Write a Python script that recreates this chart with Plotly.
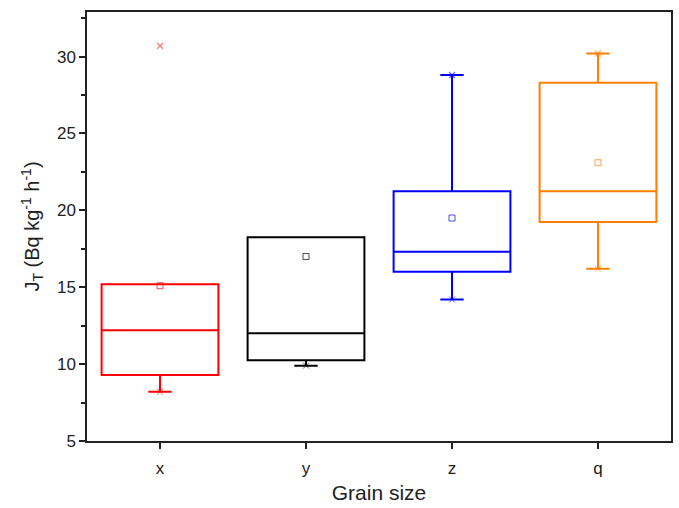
import plotly.graph_objects as go

categories = ["x", "y", "z", "q"]
colors = ["#FF0000", "#000000", "#0000FF", "#FF7F00"]
q1 = [9.3, 10.25, 16.0, 19.25]
median = [12.2, 12.0, 17.3, 21.25]
q3 = [15.2, 18.25, 21.25, 28.3]
lower = [8.2, 9.9, 14.2, 16.2]
upper = [15.2, 18.25, 28.8, 30.2]
means = [15.1, 17.0, 19.5, 23.1]
max_points = [30.7, None, 28.8, 30.2]

fig = go.Figure()
for i, c in enumerate(categories):
    fig.add_trace(go.Box(
        x=[c], q1=[q1[i]], median=[median[i]], q3=[q3[i]],
        lowerfence=[lower[i]], upperfence=[upper[i]],
        boxpoints=False, fillcolor="rgba(0,0,0,0)",
        line=dict(color=colors[i], width=2), whiskerwidth=0.2,
        width=0.8, showlegend=False, hoverinfo="skip"))
    fig.add_trace(go.Scatter(
        x=[c], y=[means[i]], mode="markers",
        marker=dict(symbol="square-open", size=6, color=colors[i],
                    opacity=0.7, line=dict(width=1)),
        showlegend=False))
    fig.add_trace(go.Scatter(
        x=[c], y=[lower[i]], mode="markers",
        marker=dict(symbol="x-thin-open", size=6, color=colors[i],
                    opacity=0.6, line=dict(width=1, color=colors[i])),
        showlegend=False))
    if max_points[i] is not None:
        fig.add_trace(go.Scatter(
            x=[c], y=[max_points[i]], mode="markers",
            marker=dict(symbol="x-thin-open", size=6, color=colors[i],
                        opacity=0.6, line=dict(width=1.2, color=colors[i])),
            showlegend=False))

fig.update_layout(
    width=679, height=508,
    margin=dict(l=87, r=6, t=12, b=67),
    paper_bgcolor="white", plot_bgcolor="white",
    boxmode="overlay",
    font=dict(family="Liberation Sans, Arial, sans-serif", color="#222", size=17),
)
fig.update_xaxes(
    type="category", categoryorder="array", categoryarray=categories,
    range=[-0.5, 3.5], showline=True, linecolor="#222", linewidth=1.5,
    mirror=True, ticks="outside", ticklen=6, tickwidth=1.5, tickcolor="#222",
    tickfont=dict(size=17), ticklabelstandoff=5,
    showgrid=False, zeroline=False,
    title=dict(text="Grain size", font=dict(size=21), standoff=8),
)
fig.update_yaxes(
    range=[5, 32.9], tickvals=[5, 10, 15, 20, 25, 30],
    showline=True, linecolor="#222", linewidth=1.5, mirror=True,
    ticks="outside", ticklen=6, tickwidth=1.5, tickcolor="#222",
    tickfont=dict(size=17),
    minor=dict(tickvals=[7.5, 12.5, 17.5, 22.5, 27.5, 32.5], ticks="outside",
               ticklen=4, tickwidth=1.5, tickcolor="#222"),
    showgrid=False, zeroline=False,
    title=dict(text="J<sub>T</sub> (Bq kg<sup>-1</sup> h<sup>-1</sup>)",
               font=dict(size=20), standoff=12),
)

fig.write_html("out.html")
